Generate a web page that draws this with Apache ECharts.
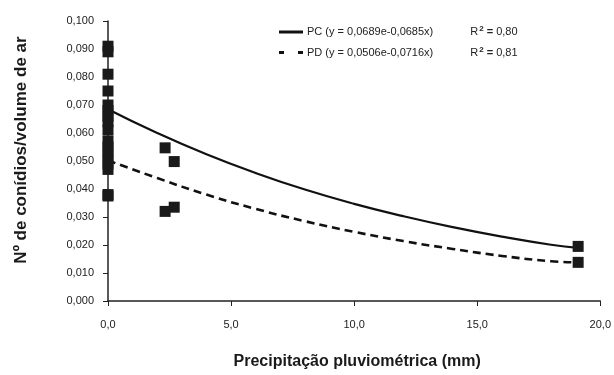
<!DOCTYPE html>
<html><head><meta charset="utf-8">
<script src="https://cdn.jsdelivr.net/npm/echarts@6/dist/echarts.min.js"></script>
<style>html,body{margin:0;padding:0;background:#fff}#c{width:614px;height:375px}</style>
</head><body><div id="c"></div>
<script>
// Observed points (x = precipitation mm, y = conidia per air volume)
var obsX = [0,0,0,0,0,0,0,0,0,0,0,0,0,0,0,0,0, 2.32,2.69,2.32,2.69, 19.1,19.1];
var obsY = [0.091,0.089,0.081,0.075,0.070,0.068,0.066,0.064,0.061,0.057,0.055,0.053,0.051,0.049,0.047,0.038,0.0375, 0.0547,0.0498,0.032,0.0335, 0.0195,0.0138];
// Trend curves
var curveX = [0,2,4,6,8,10,12,14,16,18,19.1];
var pcY = [0.0685,0.0600,0.0524,0.0457,0.0398,0.0347,0.0303,0.0264,0.0230,0.0201,0.0190];
var pdY = [0.0502,0.0439,0.0380,0.0329,0.0285,0.0247,0.0214,0.0186,0.0161,0.0142,0.0138];
var pcName = 'PC (y = 0,0689e-0,0685x)';
var pdName = 'PD (y = 0,0506e-0,0716x)';
var r2 = {};
r2[pcName] = '0,80';
r2[pdName] = '0,81';
var xTitle = 'Precipitação pluviométrica (mm)';
var yTitle = 'Nº de conídios/volume de ar';
var xTicks = {min:0, max:20, interval:5};
var yTicks = {min:0, max:0.1, interval:0.01};

function pairs(xs, ys){ return xs.map(function(x,i){return [x, ys[i]];}); }
function fmt(v, d){ return v.toFixed(d).replace('.', ','); }

var chart = echarts.init(document.getElementById('c'), null, {renderer:'canvas'});
var ff = '"Liberation Sans", Arial, sans-serif';
chart.setOption({
  animation:false,
  backgroundColor:'#fff',
  textStyle:{fontFamily:ff},
  grid:{left:108, right:8, top:21, bottom:70, containLabel:false},
  legend:{
    data:[
      {name:pcName, icon:'path://M0,0h24v3h-24z'},
      {name:pdName, icon:'path://M0,0h5v3h-5z M19,0h5v3h-5z'}
    ],
    orient:'vertical', left:279, top:25, padding:0, itemWidth:24, itemHeight:3, itemGap:8,
    itemStyle:{color:'#111'},
    textStyle:{fontFamily:ff, fontSize:11, color:'#222', padding:[0,0,0,-1],
      rich:{s:{fontSize:8, fontWeight:'bold', padding:[0,0,6,1], fontFamily:ff, color:'#222'},
            b:{fontWeight:'bold', fontSize:11, fontFamily:ff, color:'#222'},
            g:{width:37, fontSize:11}}},
    formatter:function(n){ return n + '{g| }R{s|2}{b| =} ' + r2[n]; }
  },
  graphic:[
    {type:'text', x:21, y:150, rotation:Math.PI/2,
     style:{text:yTitle, font:'bold 17px "Liberation Sans", Arial, sans-serif', fill:'#1a1a1a',
            textAlign:'center', textVerticalAlign:'middle'}}
  ],
  xAxis:{
    type:'value', min:xTicks.min, max:xTicks.max, interval:xTicks.interval,
    name:xTitle, nameLocation:'middle', nameGap:53,
    nameTextStyle:{fontFamily:ff, fontSize:16, fontWeight:'bold', color:'#1a1a1a', padding:[0,0,0,6]},
    axisLine:{lineStyle:{color:'#222', width:1.5}},
    axisTick:{show:true, inside:false, length:5, lineStyle:{color:'#222'}},
    axisLabel:{fontFamily:ff, fontSize:11, color:'#222', margin:18, formatter:function(v){return fmt(v,1);}},
    splitLine:{show:false}
  },
  yAxis:{
    type:'value', min:yTicks.min, max:yTicks.max, interval:yTicks.interval,
    axisLine:{show:true, lineStyle:{color:'#222', width:1.5}},
    axisTick:{show:true, inside:false, length:5, lineStyle:{color:'#222'}},
    axisLabel:{fontFamily:ff, fontSize:11, color:'#222', margin:14, formatter:function(v){return fmt(v,3);}},
    splitLine:{show:false}
  },
  series:[
    {name:pcName, type:'line', data:pairs(curveX,pcY), smooth:true, symbol:'none',
     lineStyle:{color:'#111', width:2.2, type:'solid'}, itemStyle:{color:'#111'}, z:3},
    {name:pdName, type:'line', data:pairs(curveX,pdY), smooth:true, symbol:'none',
     lineStyle:{color:'#111', width:2.6, type:[8,5]}, itemStyle:{color:'#111'}, z:3},
    {name:'obs', type:'scatter', data:pairs(obsX,obsY), symbol:'rect', symbolSize:11,
     itemStyle:{color:'#1a1a1a', opacity:1}, z:4}
  ]
});
</script></body></html>
